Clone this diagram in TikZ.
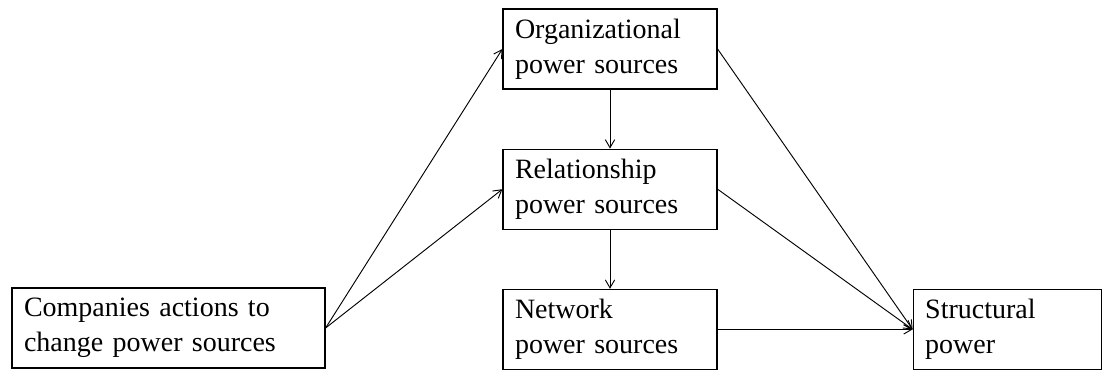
\documentclass[tikz,border=0pt]{standalone}
\usepackage{fontspec}
\setmainfont{Liberation Serif}
\usetikzlibrary{arrows.meta,positioning}

\begin{document}
\begin{tikzpicture}[
  x=0.75pt, y=-0.75pt,
  node distance=44.25pt and 146.25pt,
  src/.style={rectangle, draw=black, line width=0.9pt, align=left,
              inner xsep=9pt, inner ysep=0pt, minimum height=60pt,
              font=\fontsize{21}{26}\selectfont},
  mid/.style={src, text width=142.5pt, minimum width=160.5pt},
  arr/.style={-{Straight Barb[length=6pt,width=7pt]}, line width=0.7pt}
]
\useasboundingbox (0,0) rectangle (1102,370);

\node[mid] (org) at (610,49) {Organizational\\power sources};
\node[mid, below=of org] (rel) {Relationship\\power sources};
\node[mid, below=of rel] (net) {Network\\power sources};
\node[src, text width=123pt, minimum width=141pt, right=of net] (struct) {Structural\\power};
\node[src, text width=216.75pt, minimum width=234.75pt] (comp) at (168.5,328)
  {Companies actions to\\change power sources};

\draw[arr] (comp.east) -- (org.west);
\draw[arr] (comp.east) -- (rel.west);
\draw[arr] (org) -- (rel);
\draw[arr] (rel) -- (net);
\draw[arr] (org.east) -- (struct.west);
\draw[arr] (rel.east) -- (struct.west);
\draw[arr] (net) -- (struct);

\end{tikzpicture}
\end{document}
